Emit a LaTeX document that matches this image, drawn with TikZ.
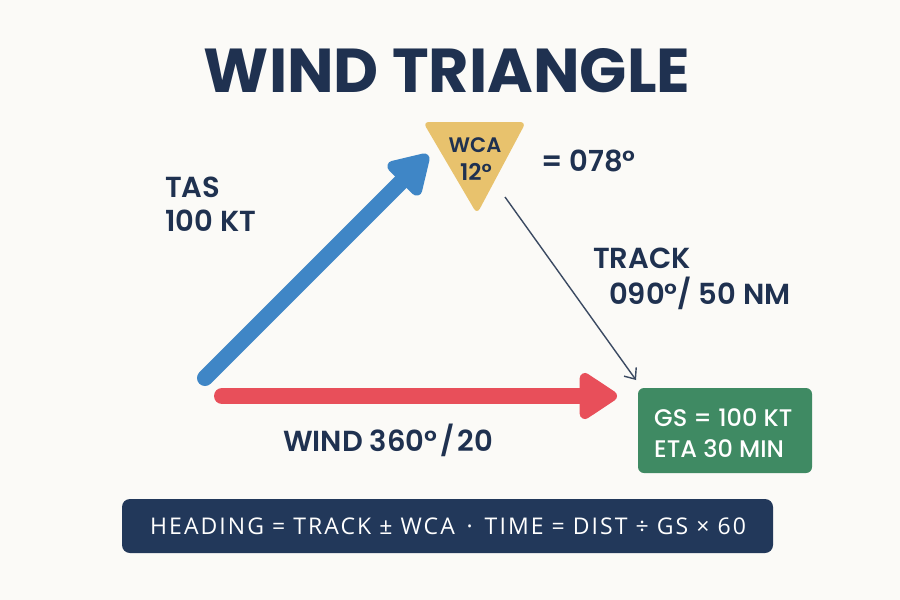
\documentclass[tikz,border=0pt]{standalone}
\usepackage{fontspec}
\setmainfont{Poppins}
\newfontfamily\semib{Poppins SemiBold}
\newfontfamily\medf{Poppins Medium}
\newfontfamily\barfont[LetterSpace=9]{Open Sans}
\usetikzlibrary{arrows.meta}
\definecolor{bg}{HTML}{FBFAF7}
\definecolor{navy}{HTML}{1F3150}
\definecolor{arrblue}{HTML}{3F86C6}
\definecolor{arrred}{HTML}{E84F5A}
\definecolor{wcagold}{HTML}{E8C26D}
\definecolor{gsgreen}{HTML}{3F8A63}
\definecolor{barnavy}{HTML}{22385A}
\definecolor{thinline}{HTML}{3B4A62}
\tikzset{
  lbl/.style={font=\semib\fontsize{29}{32}\selectfont, text=navy, inner sep=0pt},
  wcatxt/.style={font=\semib\fontsize{21}{23}\selectfont, text=navy, inner sep=0pt},
  gstxt/.style={font=\medf\fontsize{24}{26}\selectfont, text=white, inner sep=0pt},
  bigarrow/.style={line width=16pt, line cap=round},
}
\begin{document}
\begin{tikzpicture}[x=1pt,y=-1pt]
\fill[bg] (0,0) rectangle (900,600);
\useasboundingbox (0,0) rectangle (900,600);

% title
\node[font=\bfseries\fontsize{62}{68}\selectfont, text=navy, anchor=base, inner sep=0pt] (title) at (447,92) {WIND TRIANGLE};

% WCA triangle
\coordinate (wl) at (423,122);
\coordinate (wr) at (526,122);
\coordinate (wb) at (477,214);
\fill[wcagold, rounded corners=6pt] (wl) -- (wr) -- (wb) -- cycle;
\node[wcatxt, anchor=base] (wca) at (475,152) {WCA};
\node[wcatxt, anchor=base, font=\semib\fontsize{23}{25}\selectfont] (wcaval) at (476,180) {12°};
\node[lbl, anchor=base west] (hdg) at (541,171) {= 078°};

% green box
\node[fill=gsgreen, rounded corners=6pt, minimum width=174pt, minimum height=85pt, inner sep=0pt] (gs) at (725,430.5) {};
\node[gstxt, anchor=base west] (gs1) at (654,426.5) {GS = 100 KT};
\node[gstxt, anchor=base west] (gs2) at (654,457) {ETA 30 MIN};

% arrows
\coordinate (tasS) at (205,378);
\coordinate (tasE) at (428,155);
\draw[arrblue, bigarrow, -{Triangle[length=44pt,width=50pt,round]}] (tasS) -- (tasE);

\coordinate (windS) at (222,396);
\coordinate (windE) at (617,396);
\draw[arrred, bigarrow, -{Triangle[length=42pt,width=52pt,round]}] (windS) -- (windE);

\coordinate (trkS) at (505,197);
\coordinate (trkE) at (636,380);
\draw[thinline, line width=1.4pt, -{Straight Barb[length=9pt,width=15pt]}] (trkS) -- (trkE);

% labels
\node[lbl, anchor=base west] (tas1) at (165,197) {TAS};
\node[lbl, anchor=base west] (tas2) at (165,231) {100 KT};
\node[lbl, anchor=base west] (trk1) at (593,268) {TRACK};
\node[lbl, anchor=base west] (trk2) at (609,304) {090°/ 50 NM};
\node[lbl, anchor=base west] (wind) at (283,451) {WIND 360°\kern3pt/\kern3pt20};

% bottom bar
\node[fill=barnavy, rounded corners=8pt, minimum width=651pt, minimum height=54pt, inner sep=0pt] (bar) at (447.5,526) {};
\node[font=\barfont\fontsize{23}{25}\selectfont, text=white, anchor=base, inner sep=0pt] (formula) at (448,534) {HEADING = TRACK ± WCA \,·\, TIME = DIST ÷ GS × 60};
\end{tikzpicture}
\end{document}
